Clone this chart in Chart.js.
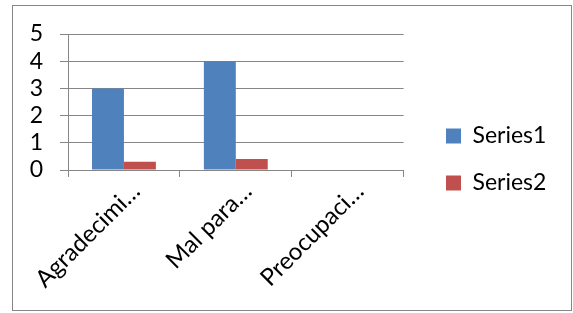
<!DOCTYPE html>
<html>
<head>
<meta charset="utf-8">
<script src="https://cdn.jsdelivr.net/npm/chart.js@4/dist/chart.umd.min.js"></script>
<style>
  body { margin: 0; background: #fff; }
</style>
</head>
<body>
<canvas id="chart" width="573" height="313"></canvas>
<script>
const categories = ['Agradecimi…', 'Mal para…', 'Preocupaci…'];
const series1 = [3, 4, 0];
const series2 = [0.3, 0.4, 0];
const yTicks = [0, 1, 2, 3, 4, 5];

const gray = '#868686';
const font = { family: 'Lato', size: 23 };
const catFont = { family: 'Lato', size: 24 };

// white background + outer frame
const frame = {
  id: 'frame',
  beforeDraw(chart) {
    const ctx = chart.ctx;
    ctx.save();
    ctx.fillStyle = '#fff';
    ctx.fillRect(0, 0, chart.width, chart.height);
    ctx.strokeStyle = gray;
    ctx.lineWidth = 1;
    ctx.strokeRect(12.5, 5.5, 559, 305);
    ctx.restore();
  }
};

// move legend a bit further right and up from the plot
const legendShift = {
  id: 'legendShift',
  afterLayout(chart) {
    const l = chart.legend;
    const dx = 422 - l.left;
    const dy = -10;
    l.left += dx; l.right += dx;
    l.top += dy; l.bottom += dy;
  }
};

new Chart(document.getElementById('chart'), {
  type: 'bar',
  data: {
    labels: categories,
    datasets: [
      { label: 'Series1', data: series1, backgroundColor: '#4F81BD' },
      { label: 'Series2', data: series2, backgroundColor: '#C0504D' }
    ]
  },
  options: {
    responsive: false,
    animation: false,
    categoryPercentage: 0.571,
    barPercentage: 1,
    layout: { padding: { left: 0, top: 34, right: 35, bottom: 8 } },
    scales: {
      x: {
        grid: { offset: true, drawOnChartArea: false, tickLength: 7, color: gray },
        border: { color: gray },
        ticks: { color: '#000', font: catFont, minRotation: 45, maxRotation: 45, autoSkip: false, padding: 0, labelOffset: 12 },
        afterFit: s => { s.height = 135; }
      },
      y: {
        min: 0,
        max: 5,
        afterBuildTicks: s => { s.ticks = yTicks.map(v => ({ value: v })); },
        grid: { tickLength: 8, color: gray },
        border: { color: gray },
        ticks: { color: '#000', font: font, padding: 17, autoSkip: false },
        afterFit: s => { s.width = 68; }
      }
    },
    plugins: {
      tooltip: { enabled: false },
      legend: {
        position: 'right',
        labels: { color: '#000', font: font, boxWidth: 15, boxHeight: 15, padding: 24 }
      }
    }
  },
  plugins: [frame, legendShift]
});
</script>
</body>
</html>
